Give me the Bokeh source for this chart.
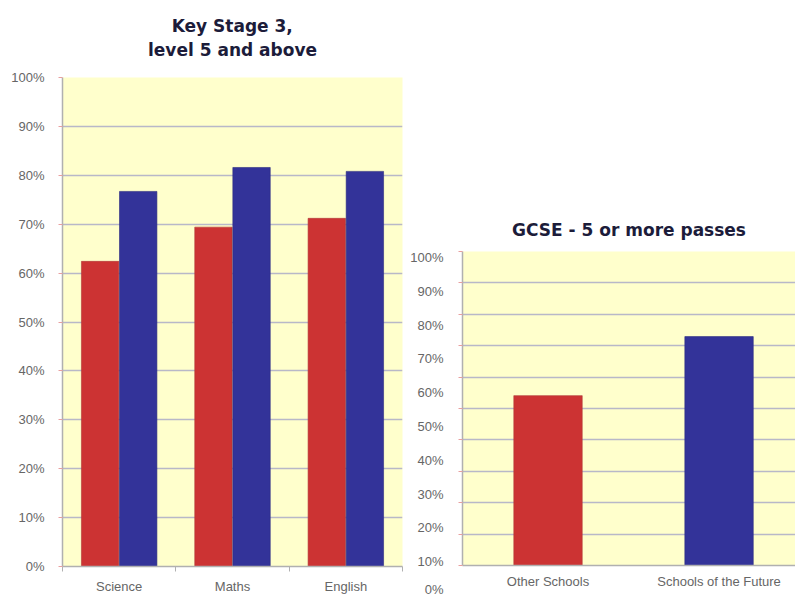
from bokeh.plotting import figure
from bokeh.layouts import row, column
from bokeh.models import Range1d, FixedTicker, LinearAxis, Title
from bokeh.embed import file_html
from bokeh.resources import INLINE

# ---- data ----
ks3_title = ["Key Stage 3,", "level 5 and above"]
ks3_categories = ["Science", "Maths", "English"]
ks3_other = [62.4, 69.4, 71.2]
ks3_future = [76.7, 81.6, 80.8]

gcse_title = "GCSE - 5 or more passes"
gcse_categories = ["Other Schools", "Schools of the Future"]
gcse_values = [54.1, 72.9]

y_ticks = [0, 10, 20, 30, 40, 50, 60, 70, 80, 90, 100]
y_tick_labels = ["0%", "10%", "20%", "30%", "40%", "50%", "60%", "70%", "80%", "90%", "100%"]

# ---- style ----
RED = "#CC3333"
BLUE = "#333399"
BG = "#FFFFCC"
GRID = "#B8B8C8"
AXIS = "#B0B0B0"
TICK = "#E8A0A0"
LABEL = "#666666"
TITLE = "#1c1c3a"
TFONT = "DejaVu Sans"
LFONT = "Liberation Sans"
TSIZE = "17px"
NBSP = "\u00a0"


def style_common(p):
    p.background_fill_color = BG
    p.border_fill_color = "white"
    p.outline_line_color = None
    p.xgrid.visible = False
    p.ygrid.ticker = FixedTicker(ticks=y_ticks)
    p.ygrid.grid_line_color = GRID
    p.ygrid.grid_line_width = 1.5
    for ax in p.axis:
        ax.major_label_text_font = LFONT
        ax.major_label_text_font_size = "13px"
        ax.major_label_text_color = LABEL
        ax.axis_line_color = AXIS
        ax.axis_line_width = 1.5


def add_title(p, text, standoff):
    p.add_layout(Title(text=text, align="center", vertical_align="top",
                       text_font=TFONT, text_font_size=TSIZE, text_font_style="bold",
                       text_color=TITLE, text_line_height=1.2,
                       standoff=standoff), "above")


# ---- left chart ----
n1 = len(ks3_categories)
centers1 = list(range(n1))
p1 = figure(width=405, height=596, x_range=Range1d(-0.5, n1 - 0.5),
            y_range=Range1d(0, 100), output_backend="svg", toolbar_location=None,
            title=None, min_border_left=62, min_border_right=3,
            min_border_top=77, min_border_bottom=30)
style_common(p1)
p1.vbar(x=[c - 0.168 for c in centers1], top=ks3_other, width=0.33,
        fill_color=RED, line_color="#B03838", line_width=0.6)
p1.vbar(x=[c + 0.168 for c in centers1], top=ks3_future, width=0.33,
        fill_color=BLUE, line_color="#2A2A80", line_width=0.6)

p1.yaxis.ticker = FixedTicker(ticks=y_ticks)
p1.yaxis.major_label_overrides = dict(zip(y_ticks, y_tick_labels))
p1.yaxis.major_tick_line_color = TICK
p1.yaxis.major_tick_out = 4
p1.yaxis.major_tick_in = 0
p1.yaxis.minor_tick_line_color = None
p1.yaxis.major_label_standoff = 14

p1.xaxis.ticker = FixedTicker(ticks=centers1,
                              minor_ticks=[c - 0.5 for c in centers1] + [n1 - 0.5])
p1.xaxis.major_label_overrides = dict(zip(centers1, ks3_categories))
p1.xaxis.major_tick_line_color = None
p1.xaxis.major_tick_out = 0
p1.xaxis.major_tick_in = 0
p1.xaxis.minor_tick_line_color = AXIS
p1.xaxis.minor_tick_out = 5
p1.xaxis.minor_tick_in = 0
p1.xaxis.major_label_standoff = 7

# two-line title; the short first line is padded so both lines look centred
add_title(p1, NBSP * 4 + ks3_title[0] + "\n" + ks3_title[1], 31)

# ---- right chart ----
n2 = len(gcse_categories)
centers2 = list(range(n2))
p2 = figure(width=390, height=596, x_range=Range1d(-0.5, 1.447),
            y_range=Range1d(0, 100), output_backend="svg", toolbar_location=None,
            title=None, min_border_left=57, min_border_right=0,
            min_border_top=251, min_border_bottom=31)
p2.extra_y_ranges = {"lab": Range1d(8.88, 101.8)}
lab_axis = LinearAxis(y_range_name="lab")
p2.add_layout(lab_axis, "left")
style_common(p2)
p2.vbar(x=centers2, top=gcse_values, width=0.4,
        fill_color=[RED, BLUE], line_color=["#B03838", "#2A2A80"], line_width=0.6)

# axis on the data range: ticks at the gridlines, only the (displaced) 0% label,
# pushed down below the baseline by blank leading lines
main_y = p2.yaxis[0]
main_y.ticker = FixedTicker(ticks=y_ticks)
zero_label = (NBSP + "\n") * 3 + y_tick_labels[0]
main_y.major_label_overrides = {t: (zero_label if t == 0 else "") for t in y_ticks}
main_y.major_tick_line_color = TICK
main_y.major_tick_out = 4
main_y.major_tick_in = 0
main_y.minor_tick_line_color = None
main_y.major_label_standoff = 15

# axis carrying the 10%..100% labels
lab_axis.ticker = FixedTicker(ticks=y_ticks[1:])
lab_axis.major_label_overrides = dict(zip(y_ticks, y_tick_labels))
lab_axis.axis_line_color = None
lab_axis.major_tick_line_color = None
lab_axis.minor_tick_line_color = None
lab_axis.major_tick_out = 0
lab_axis.major_tick_in = 0
lab_axis.major_label_standoff = -22

p2.xaxis.ticker = FixedTicker(ticks=centers2)
p2.xaxis.major_label_overrides = dict(zip(centers2, gcse_categories))
p2.xaxis.major_tick_line_color = None
p2.xaxis.major_tick_out = 0
p2.xaxis.major_tick_in = 0
p2.xaxis.minor_tick_line_color = None
p2.xaxis.major_label_standoff = 8

add_title(p2, gcse_title, 20)

layout = row(column(p1), column(p2), spacing=0)
open("out.html", "w").write(file_html(layout, INLINE))
